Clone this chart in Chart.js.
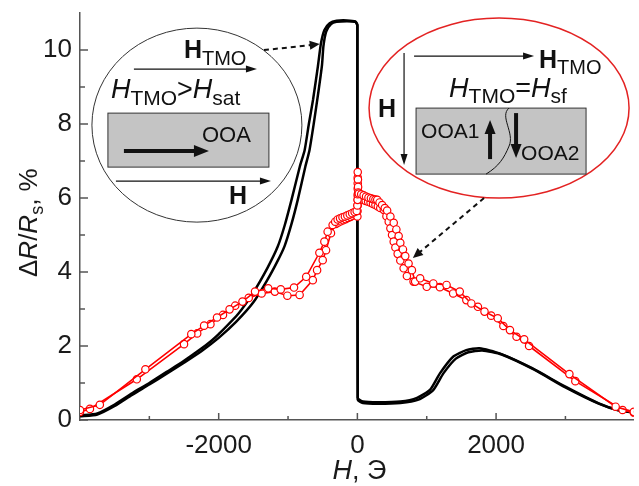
<!DOCTYPE html>
<html>
<head>
<meta charset="utf-8">
<script src="https://cdn.jsdelivr.net/npm/chart.js@4"></script>
<style>html,body{margin:0;padding:0;background:#fff}</style>
</head>
<body>
<canvas id="c" width="639" height="486"></canvas>
<script>
const FONT = "'Liberation Sans', Arial, sans-serif";

// tick values
const xMajorTicks = [-2000, 0, 2000];
const xMinorTicks = [-3000, -1000, 1000, 3000];
const yMajorTicks = [0, 2, 4, 6, 8, 10];
const yMinorTicks = [1, 3, 5, 7, 9];

// black curve, two sweeps [H, dR/R %]
const blackA = [[-4000,0.12],[-3750,0.18],[-3500,0.42],[-3250,0.72],[-3000,1.0],[-2750,1.3],[-2500,1.6],[-2250,1.93],[-2100,2.15],[-2000,2.32],[-1714,2.88],[-1500,3.45],[-1300,4.1],[-1150,4.68],[-1050,5.25],[-950,5.95],[-830,6.85],[-760,7.3],[-700,8.0],[-640,8.65],[-570,9.55],[-525,10.18],[-475,10.54],[-400,10.72],[-300,10.79],[-150,10.8],[-30,10.77],[0,10.68],[5,0.6],[80,0.5],[300,0.48],[620,0.5],[860,0.6],[1050,0.82],[1190,1.26],[1380,1.71],[1570,1.89],[1760,1.94],[2050,1.8],[2520,1.4],[3000,0.9],[3480,0.45],[3760,0.27],[3986,0.22]];
const blackB = [[-4000,0.1],[-3750,0.15],[-3500,0.38],[-3250,0.68],[-3000,0.96],[-2750,1.25],[-2500,1.55],[-2250,1.86],[-2000,2.22],[-1750,2.65],[-1500,3.18],[-1300,3.78],[-1150,4.3],[-1050,4.7],[-950,5.3],[-860,5.95],[-750,6.85],[-690,7.3],[-630,8.0],[-560,8.9],[-510,9.6],[-490,10.1],[-450,10.5],[-380,10.7],[-300,10.76],[-150,10.78],[-30,10.76],[0,10.66],[5,0.55],[80,0.46],[300,0.44],[620,0.46],[880,0.55],[1090,0.8],[1240,1.26],[1420,1.66],[1600,1.83],[1800,1.88],[2080,1.77],[2550,1.36],[3000,0.88],[3480,0.44],[3760,0.26],[3986,0.2]];

// red curve with markers, two sweeps [H, dR/R %]
const redA = [[-4000,0.27],[-3714,0.41],[-3057,1.37],[-2395,2.32],[-2210,2.55],[-2024,2.77],[-1843,2.99],[-1657,3.2],[-1476,3.47],[-1286,3.56],[-1105,3.53],[-914,3.58],[-738,3.87],[-548,4.52],[-476,4.82],[-429,5.09],[-357,5.27],[-320,5.36],[-285,5.42],[-250,5.45],[-215,5.48],[-180,5.5],[-145,5.53],[-110,5.56],[-75,5.59],[-40,5.62],[-10,5.65],[0,5.8],[3,5.95],[5,6.1],[5,6.25],[5,6.4],[5,6.55],[5,6.7],[8,6.5],[10,6.3],[12,6.15],[20,6.12],[55,6.1],[90,6.07],[125,6.04],[160,6.01],[195,5.99],[230,5.97],[260,5.96],[286,5.95],[320,5.88],[357,5.81],[395,5.73],[429,5.66],[476,5.5],[524,5.33],[562,5.15],[595,4.97],[619,4.79],[657,4.61],[690,4.43],[738,4.23],[786,4.05],[833,3.74],[905,3.83],[1095,3.69],[1286,3.65],[1476,3.47],[1643,3.15],[1833,2.93],[2024,2.75],[2200,2.43],[2405,2.18],[3057,1.24],[3724,0.36],[3986,0.22]];
const redB = [[-4000,0.22],[-3857,0.3],[-3181,1.1],[-2500,2.05],[-2310,2.34],[-2119,2.59],[-1938,2.84],[-1762,3.09],[-1567,3.3],[-1381,3.42],[-1190,3.47],[-1010,3.36],[-833,3.38],[-643,3.78],[-581,4.05],[-500,4.32],[-452,4.59],[-381,5.05],[-310,5.3],[-275,5.34],[-240,5.37],[-205,5.4],[-170,5.43],[-135,5.46],[-100,5.49],[-65,5.52],[-30,5.55],[0,5.5],[2,5.65],[4,5.8],[5,5.95],[6,6.05],[15,6.0],[50,5.98],[85,5.95],[120,5.92],[155,5.9],[190,5.87],[225,5.84],[260,5.81],[295,5.77],[330,5.73],[381,5.68],[419,5.51],[452,5.36],[476,5.18],[500,5.0],[524,4.82],[548,4.66],[581,4.49],[619,4.31],[667,4.1],[714,3.89],[810,3.74],[1000,3.6],[1190,3.59],[1381,3.42],[1571,3.24],[1738,3.06],[1929,2.82],[2105,2.54],[2295,2.25],[2476,2.0],[3143,1.05],[3824,0.27],[3986,0.2]];

const toXY = arr => arr.map(([x, y]) => ({x, y}));

const blackSet = (data) => ({
    data: toXY(data),
    showLine: true,
    borderColor: "#000",
    borderWidth: 2.5,
    pointRadius: 0,
    tension: 0.2,
    order: 2,
});
const redSet = (data) => ({
    data: toXY(data),
    showLine: true,
    borderColor: "#f00",
    borderWidth: 1.6,
    pointRadius: 3.7,
    pointBorderWidth: 1.2,
    pointBorderColor: "#f00",
    pointBackgroundColor: "#fff",
    tension: 0,
    order: 1,
});

// drawing helpers
function textRuns(ctx, x, y, parts) {
    parts.forEach(p => {
        ctx.font = p.f;
        ctx.fillText(p.t, x, y + (p.dy || 0));
        x += ctx.measureText(p.t).width;
    });
    return x;
}
function arrow(ctx, x1, y1, x2, y2, lw, len, half) {
    const a = Math.atan2(y2 - y1, x2 - x1);
    ctx.lineWidth = lw;
    ctx.beginPath();
    ctx.moveTo(x1, y1);
    ctx.lineTo(x2 - Math.cos(a) * len * 0.8, y2 - Math.sin(a) * len * 0.8);
    ctx.stroke();
    ctx.setLineDash([]);
    ctx.beginPath();
    ctx.moveTo(x2, y2);
    ctx.lineTo(x2 - Math.cos(a) * len - Math.sin(a) * half, y2 - Math.sin(a) * len + Math.cos(a) * half);
    ctx.lineTo(x2 - Math.cos(a) * len + Math.sin(a) * half, y2 - Math.sin(a) * len - Math.cos(a) * half);
    ctx.closePath();
    ctx.fill();
}

const decor = {
    id: "decor",
    afterDraw(chart) {
        const ctx = chart.ctx;
        const xs = chart.scales.x, ys = chart.scales.y;
        const area = chart.chartArea;
        ctx.save();

        // inward ticks
        ctx.strokeStyle = "#555";
        ctx.lineWidth = 1.5;
        ctx.beginPath();
        xMajorTicks.forEach(v => { const p = xs.getPixelForValue(v); ctx.moveTo(p, area.bottom); ctx.lineTo(p, area.bottom - 7); });
        xMinorTicks.forEach(v => { const p = xs.getPixelForValue(v); ctx.moveTo(p, area.bottom); ctx.lineTo(p, area.bottom - 4); });
        yMajorTicks.forEach(v => { const p = ys.getPixelForValue(v); ctx.moveTo(area.left, p); ctx.lineTo(area.left + 8, p); });
        yMinorTicks.forEach(v => { const p = ys.getPixelForValue(v); ctx.moveTo(area.left, p); ctx.lineTo(area.left + 5, p); });
        ctx.stroke();

        ctx.fillStyle = "#1a1a1a";
        ctx.textBaseline = "alphabetic";
        ctx.textAlign = "left";

        // x title
        const big = "27px " + FONT, bigI = "italic 27px " + FONT;
        ctx.font = bigI;
        let w = ctx.measureText("H").width;
        ctx.font = big;
        w += ctx.measureText(", Э").width;
        textRuns(ctx, xs.getPixelForValue(0) + 2 - w / 2, 479, [{t: "H", f: bigI}, {t: ", Э", f: big}]);

        // y title
        ctx.save();
        ctx.translate(37, 277);
        ctx.rotate(-Math.PI / 2);
        textRuns(ctx, 0, 0, [
            {t: "Δ", f: "26px " + FONT}, {t: "R", f: "italic 26px " + FONT},
            {t: "/", f: "26px " + FONT}, {t: "R", f: "italic 26px " + FONT},
            {t: "s", f: "18px " + FONT, dy: 6}, {t: ", %", f: "26px " + FONT},
        ]);
        ctx.restore();

        const boldH = "bold 25px " + FONT, sub = "20px " + FONT;
        const itH = "italic 27px " + FONT, sub2 = "21px " + FONT, reg = "27px " + FONT;

        // left inset
        const L = {x: xs.getPixelForValue(-2314), y: ys.getPixelForValue(7.97)};
        ctx.fillStyle = "#fff";
        ctx.strokeStyle = "#333";
        ctx.lineWidth = 1;
        ctx.beginPath();
        ctx.ellipse(L.x, L.y, 105, 97, 0, 0, Math.PI * 2);
        ctx.fill();
        ctx.stroke();
        ctx.fillStyle = "#c4c4c4";
        ctx.fillRect(L.x - 89, L.y - 12, 161, 54);
        ctx.strokeRect(L.x - 89, L.y - 12, 161, 54);
        ctx.fillStyle = "#111";
        ctx.strokeStyle = "#111";
        textRuns(ctx, L.x - 13, L.y - 67, [{t: "H", f: boldH}, {t: "TMO", f: sub, dy: 7}]);
        arrow(ctx, L.x - 63, L.y - 56, L.x + 60, L.y - 56, 1.2, 11, 3.5);
        textRuns(ctx, L.x - 86, L.y - 27, [
            {t: "H", f: itH}, {t: "TMO", f: sub2, dy: 7}, {t: ">", f: reg},
            {t: "H", f: itH}, {t: "sat", f: sub2, dy: 7},
        ]);
        arrow(ctx, L.x - 73, L.y + 26, L.x + 12, L.y + 26, 4, 15, 6);
        textRuns(ctx, L.x + 5, L.y + 17, [{t: "OOA", f: "22px " + FONT}]);
        arrow(ctx, L.x - 81, L.y + 56, L.x + 74, L.y + 56, 1.2, 11, 3.5);
        textRuns(ctx, L.x + 32, L.y + 79, [{t: "H", f: boldH}]);

        // leader to black curve
        ctx.setLineDash([5, 4]);
        arrow(ctx, L.x + 67, L.y - 75, xs.getPixelForValue(-543), ys.getPixelForValue(10.16), 2, 10, 4.5);
        ctx.setLineDash([]);

        // right inset
        const R = {x: xs.getPixelForValue(2043), y: ys.getPixelForValue(8.43)};
        ctx.fillStyle = "#fff";
        ctx.strokeStyle = "#e32222";
        ctx.lineWidth = 1.5;
        ctx.beginPath();
        ctx.ellipse(R.x, R.y, 130, 90, 0, 0, Math.PI * 2);
        ctx.fill();
        ctx.stroke();
        ctx.fillStyle = "#c4c4c4";
        ctx.strokeStyle = "#333";
        ctx.lineWidth = 1;
        ctx.fillRect(R.x - 83, R.y, 170, 66);
        ctx.strokeRect(R.x - 83, R.y, 170, 66);
        ctx.fillStyle = "#111";
        ctx.strokeStyle = "#111";
        ctx.beginPath();
        ctx.moveTo(R.x + 10, R.y);
        ctx.bezierCurveTo(R.x + 0, R.y + 8, R.x + 16, R.y + 25, R.x + 10, R.y + 38);
        ctx.bezierCurveTo(R.x + 5, R.y + 50, R.x + 0, R.y + 58, R.x - 13, R.y + 66);
        ctx.lineWidth = 1;
        ctx.stroke();
        arrow(ctx, R.x - 85, R.y - 52, R.x + 35, R.y - 52, 1.2, 11, 3.5);
        textRuns(ctx, R.x + 40, R.y - 40, [{t: "H", f: boldH}, {t: "TMO", f: sub, dy: 6}]);
        arrow(ctx, R.x - 95, R.y - 55, R.x - 95, R.y + 57, 1.2, 11, 3.5);
        textRuns(ctx, R.x - 121, R.y + 9, [{t: "H", f: boldH}]);
        textRuns(ctx, R.x - 50, R.y - 11, [
            {t: "H", f: itH}, {t: "TMO", f: sub2, dy: 6}, {t: "=", f: reg},
            {t: "H", f: itH}, {t: "sf", f: sub2, dy: 6},
        ]);
        textRuns(ctx, R.x - 78, R.y + 30, [{t: "OOA1", f: "21px " + FONT}]);
        textRuns(ctx, R.x + 22, R.y + 52, [{t: "OOA2", f: "21px " + FONT}]);
        arrow(ctx, R.x - 9, R.y + 51, R.x - 9, R.y + 12, 4, 14, 5.5);
        arrow(ctx, R.x + 17, R.y + 5, R.x + 17, R.y + 50, 4, 14, 5.5);

        // leader to red curve
        ctx.setLineDash([5, 4]);
        arrow(ctx, R.x - 15, R.y + 90, xs.getPixelForValue(800), ys.getPixelForValue(4.38), 2, 10, 4.5);
        ctx.setLineDash([]);

        ctx.restore();
    },
};

new Chart(document.getElementById("c").getContext("2d"), {
    type: "scatter",
    data: {
        datasets: [redSet(redA), redSet(redB), blackSet(blackA), blackSet(blackB)],
    },
    options: {
        responsive: false,
        animation: false,
        devicePixelRatio: 1,
        layout: {padding: {top: 13, right: 0, left: 0, bottom: 0}},
        plugins: {legend: {display: false}, tooltip: {enabled: false}},
        scales: {
            x: {
                type: "linear",
                min: -4000,
                max: 3986,
                grid: {display: false, drawTicks: false},
                border: {display: true, color: "#555", width: 1.5},
                ticks: {
                    padding: 10,
                    color: "#1a1a1a",
                    font: {family: FONT, size: 26},
                    maxRotation: 0,
                    callback: v => String(v),
                },
                afterBuildTicks: s => { s.ticks = xMajorTicks.map(v => ({value: v})) },
                afterFit: s => { s.height = 66; s.paddingLeft = 0; s.paddingRight = 0 },
            },
            y: {
                type: "linear",
                min: 0,
                max: 11,
                grid: {display: false, drawTicks: false},
                border: {display: true, color: "#555", width: 1.5},
                ticks: {
                    padding: 8,
                    color: "#1a1a1a",
                    font: {family: FONT, size: 26},
                    callback: v => String(v),
                },
                afterBuildTicks: s => { s.ticks = yMajorTicks.map(v => ({value: v})) },
                afterFit: s => { s.width = 80; s.paddingTop = 0; s.paddingBottom = 0 },
            },
        },
    },
    plugins: [decor],
});
</script>
</body>
</html>
